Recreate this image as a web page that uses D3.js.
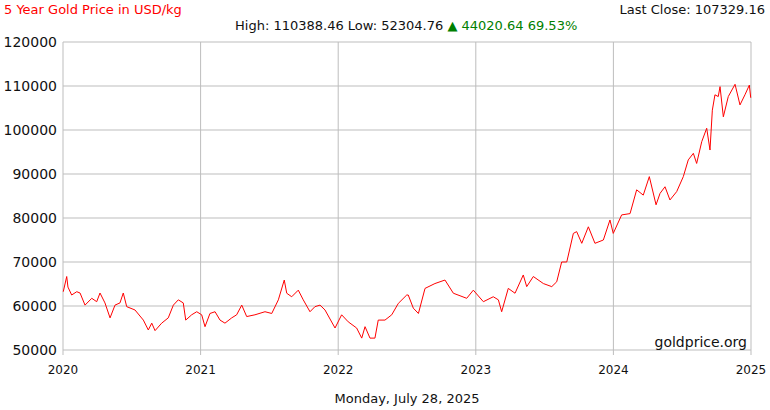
<!DOCTYPE html>
<html>
<head>
<meta charset="utf-8">
<script src="https://cdn.jsdelivr.net/npm/d3@7"></script>
<style>
body { margin: 0; background: #fff; }
text { font-family: "DejaVu Sans", Verdana, sans-serif; }
</style>
</head>
<body>
<svg width="770" height="410"></svg>
<script>
// years since start of 2020
const years = [0.002,0.027,0.036,0.063,0.100,0.124,0.160,0.209,0.245,0.269,0.305,0.342,0.378,0.414,0.438,0.463,0.523,0.584,0.620,0.645,0.669,0.717,0.765,0.802,0.838,0.874,0.892,0.935,0.972,1.008,1.032,1.068,1.105,1.141,1.177,1.226,1.262,1.299,1.335,1.395,1.468,1.517,1.565,1.608,1.626,1.662,1.710,1.746,1.795,1.831,1.868,1.904,1.977,2.025,2.073,2.134,2.171,2.195,2.231,2.267,2.291,2.340,2.389,2.437,2.498,2.509,2.546,2.583,2.631,2.703,2.776,2.837,2.934,2.982,3.055,3.127,3.164,3.188,3.236,3.285,3.345,3.370,3.418,3.491,3.552,3.588,3.624,3.661,3.709,3.733,3.770,3.818,3.866,3.927,3.975,3.999,4.060,4.121,4.169,4.217,4.261,4.310,4.339,4.375,4.411,4.460,4.508,4.544,4.581,4.605,4.642,4.678,4.702,4.719,4.738,4.762,4.775,4.799,4.835,4.884,4.920,4.956,4.988,4.998];
const prices = [63250,66700,64300,62500,63250,62950,60200,61750,60980,62950,60700,57300,60200,60700,62950,59850,59100,56800,54550,56100,54400,56100,57300,60200,61400,60700,56800,58000,58700,58000,55300,58300,58700,56800,56100,57300,58000,60200,57600,58000,58700,58300,61400,65900,62900,62100,63600,61400,58700,59850,60200,59100,55000,58000,56400,55000,52700,55300,52700,52700,56800,56800,58000,60600,62500,62500,59500,58300,64000,65100,65900,62900,61750,63600,60980,62100,61400,58700,64000,62900,67050,64400,66700,65100,64400,65500,70000,70000,76500,76900,74250,78000,74250,75000,79550,76500,80700,81000,86400,85200,89400,83000,85600,87100,84100,86000,89400,93200,94700,92400,97350,100400,95450,104500,108000,107600,109850,103000,107600,110388,105700,108000,110200,107329];
const yTicks = [50000,60000,70000,80000,90000,100000,110000,120000];
const xTicks = [2020,2021,2022,2023,2024,2025];

const svg = d3.select("svg");
const x = d3.scaleLinear().domain([2020, 2025]).range([63, 751]);
const y = d3.scaleLinear().domain([50000, 120000]).range([350, 42]);

// grid
svg.selectAll(".hg").data(yTicks).join("line")
    .attr("x1", 63).attr("x2", 751)
    .attr("y1", d => y(d)).attr("y2", d => y(d))
    .attr("stroke", "#bdbdbd").attr("stroke-width", 1);
svg.selectAll(".vg").data(xTicks).join("line")
    .attr("x1", d => x(d)).attr("x2", d => x(d))
    .attr("y1", 42).attr("y2", 355)
    .attr("stroke", "#bdbdbd").attr("stroke-width", 1);

svg.selectAll(".yl").data(yTicks).join("text")
    .attr("x", 57).attr("y", d => y(d) + 5)
    .attr("text-anchor", "end").attr("font-size", 14).attr("fill", "#111")
    .text(d => d);
svg.selectAll(".xl").data(xTicks).join("text")
    .attr("x", d => x(d)).attr("y", 374)
    .attr("text-anchor", "middle").attr("font-size", 12).attr("fill", "#111")
    .text(d => d);

const line = d3.line()
    .x((d, i) => x(2020 + years[i]))
    .y(d => y(d));
svg.append("path").datum(prices)
    .attr("d", line)
    .attr("fill", "none").attr("stroke", "#ff0000").attr("stroke-width", 1);

svg.append("text").attr("x", 4).attr("y", 14).attr("font-size", 13)
    .attr("fill", "#ff0000").text("5 Year Gold Price in USD/kg");
svg.append("text").attr("x", 765).attr("y", 14).attr("font-size", 13)
    .attr("text-anchor", "end").attr("fill", "#111").text("Last Close: 107329.16");
const t2 = svg.append("text").attr("x", 235).attr("y", 30).attr("font-size", 13).attr("fill", "#111");
t2.append("tspan").text("High: 110388.46 Low: 52304.76 ");
t2.append("tspan").attr("fill", "#008000").text("▲ 44020.64 69.53%");
svg.append("text").attr("x", 747).attr("y", 347).attr("font-size", 14)
    .attr("text-anchor", "end").attr("fill", "#111").text("goldprice.org");
svg.append("text").attr("x", 407).attr("y", 403).attr("font-size", 13)
    .attr("text-anchor", "middle").attr("fill", "#111").text("Monday, July 28, 2025");
</script>
</body>
</html>
